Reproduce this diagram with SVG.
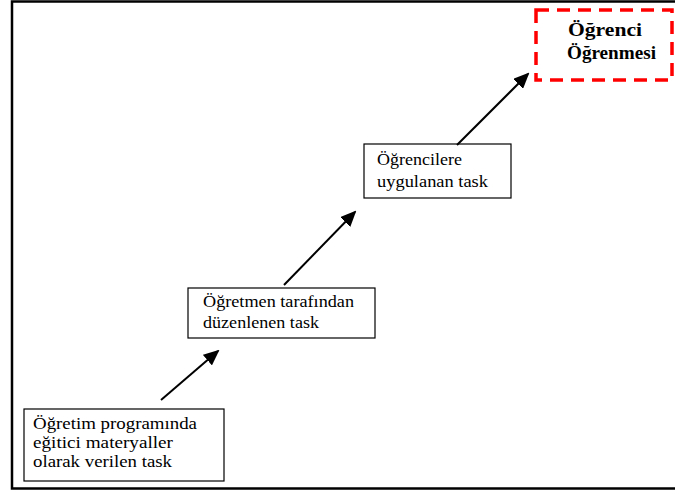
<svg xmlns="http://www.w3.org/2000/svg" width="675" height="494" viewBox="0 0 675 494">
<style>
.box{fill:#fff;stroke:#000;stroke-width:1.2}
.t{font-family:"Liberation Serif","Times New Roman",serif;font-size:17px;fill:#000}
.b{font-family:"Liberation Serif","Times New Roman",serif;font-size:19px;font-weight:bold;fill:#000}
.c{stroke:#000;stroke-width:2;fill:none}
</style>
<defs>
<marker id="ah" markerUnits="userSpaceOnUse" markerWidth="16" markerHeight="14" refX="14" refY="7" orient="auto">
<path d="M0,0 L16,7 L0,14 Z" fill="#000"/>
</marker>
</defs>
<rect width="675" height="494" fill="#fff"/>
<path d="M675,1.5 H12 V488.5 H675" fill="none" stroke="#000" stroke-width="2.5"/>
<g id="n1">
<rect class="box" x="24" y="409" width="200" height="72"/>
<text class="t" x="33" y="429" textLength="164" lengthAdjust="spacingAndGlyphs">Öğretim programında</text>
<text class="t" x="33" y="448" textLength="140" lengthAdjust="spacingAndGlyphs">eğitici materyaller</text>
<text class="t" x="33" y="467" textLength="139" lengthAdjust="spacingAndGlyphs">olarak verilen task</text>
</g>
<g id="n2">
<rect class="box" x="188" y="288" width="187" height="50"/>
<text class="t" x="203" y="307" textLength="151" lengthAdjust="spacingAndGlyphs">Öğretmen tarafından</text>
<text class="t" x="203" y="328" textLength="116" lengthAdjust="spacingAndGlyphs">düzenlenen task</text>
</g>
<g id="n3">
<rect class="box" x="364" y="144" width="147" height="54"/>
<text class="t" x="377" y="165" textLength="85" lengthAdjust="spacingAndGlyphs">Öğrencilere</text>
<text class="t" x="377" y="187" textLength="111" lengthAdjust="spacingAndGlyphs">uygulanan task</text>
</g>
<g id="n4">
<rect x="536" y="10" width="136" height="70" fill="#fff" stroke="#ff0000" stroke-width="3.5" stroke-dasharray="13,8"/>
<text class="b" x="568" y="36" textLength="74" lengthAdjust="spacingAndGlyphs">Öğrenci</text>
<text class="b" x="567" y="59" textLength="89" lengthAdjust="spacingAndGlyphs">Öğrenmesi</text>
</g>
<g id="connectors">
<line class="c" x1="161" y1="400" x2="218" y2="351" marker-end="url(#ah)"/>
<line class="c" x1="284" y1="285" x2="355" y2="212" marker-end="url(#ah)"/>
<line class="c" x1="457" y1="145" x2="528" y2="74" marker-end="url(#ah)"/>
</g>
</svg>
